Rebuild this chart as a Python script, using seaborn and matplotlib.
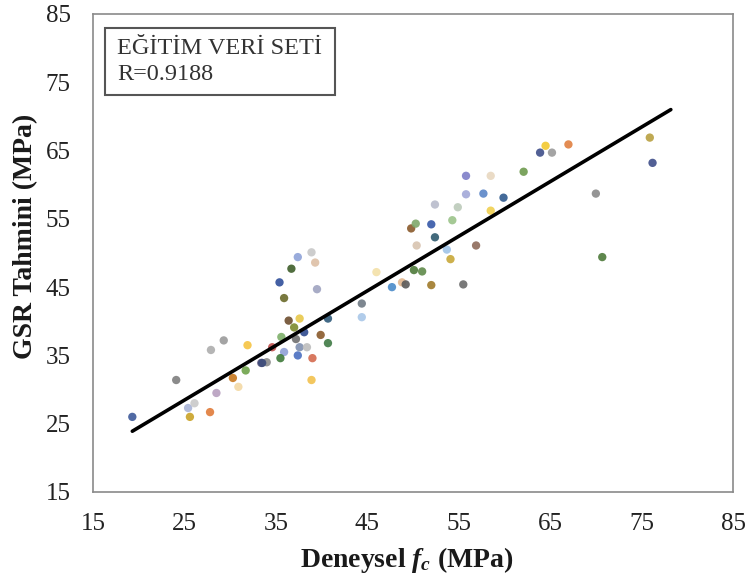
import matplotlib
matplotlib.use("Agg")
import matplotlib.pyplot as plt
import seaborn as sns
import pandas as pd

# ---- data ----
exp_fc = [19.3, 24.1, 25.4, 26.1, 25.6, 27.8, 27.9, 28.5, 29.3, 30.3,
          30.9, 31.9, 31.7, 33.4, 34.0, 33.5, 34.6, 35.4, 35.9, 35.9,
          35.5, 35.6, 36.7, 36.4, 37.6, 37.0, 37.4, 37.4, 37.6, 38.1,
          37.2, 38.4, 39.0, 38.9, 38.9, 39.3, 39.5, 40.7, 39.9, 40.7,
          44.4, 44.4, 46.0, 47.7, 48.8, 49.2, 49.8, 50.3, 50.1, 51.0,
          50.4, 52.0, 52.0, 52.4, 52.4, 53.7, 54.1, 54.3, 54.9, 55.5,
          55.8, 55.8, 56.9, 57.7, 58.5, 58.5, 59.9, 62.1, 63.9, 64.5,
          65.2, 67.0, 70.0, 70.7, 75.9, 76.2]
gsr_pred = [26.0, 31.4, 27.3, 28.0, 26.0, 26.7, 35.8, 29.5, 37.2, 31.7,
            30.4, 36.5, 32.8, 33.9, 34.0, 33.9, 36.2, 45.7, 43.4, 35.5,
            34.6, 37.7, 47.7, 40.1, 40.4, 39.1, 49.4, 35.0, 36.2, 38.4,
            37.4, 36.2, 34.6, 31.4, 50.1, 48.6, 44.7, 40.4, 38.0, 36.8,
            42.6, 40.6, 47.2, 45.0, 45.7, 45.4, 53.6, 54.3, 47.5, 47.3,
            51.1, 45.3, 54.2, 52.3, 57.1, 50.5, 49.1, 54.8, 56.7, 45.4,
            61.3, 58.6, 51.1, 58.7, 61.3, 56.2, 58.1, 61.9, 64.7, 65.7,
            64.7, 65.9, 58.7, 49.4, 66.9, 63.2]
fit_x = [19.3, 78.2]
fit_y = [23.9, 71.0]
x_ticks = [15, 25, 35, 45, 55, 65, 75, 85]
y_ticks = [15, 25, 35, 45, 55, 65, 75, 85]
box_title = "EĞİTİM VERİ SETİ"
box_r = "R=0.9188"

point_colors = ['#3E5A9A', '#7F7F7F', '#A9B4D6', '#C9C9C9', '#C9A227', '#E07B39', '#ADADAD', '#B79FBF', '#9A9A9A', '#C8781E',
                '#F3D9A4', '#F5C342', '#6FA34A', '#6C6488', '#8C8C8C', '#3B4A7A', '#C0504D', '#2F4F9A', '#6B6B2A', '#8FA0D6',
                '#3F7A3A', '#7FB06A', '#3E5E2A', '#6E4E2E', '#E8C84A', '#7D8A2E', '#8EA2D8', '#4A6FC0', '#7E8FB0', '#2E4A8E',
                '#6F6F6F', '#BDBDBD', '#D46A4F', '#F2C14E', '#C8C8C8', '#DDBFA5', '#9FA3C0', '#2E5A7A', '#8A5A2B', '#3F7A45',
                '#6F7A84', '#A9C7E8', '#F3E0A8', '#4A8BC9', '#E3B78E', '#5A5A5A', '#8A5A2B', '#7FA86A', '#4E7A3A', '#5F8A4A',
                '#D8C3B0', '#A07A2A', '#3558A8', '#2E5A6E', '#B8BCCB', '#9FC3E8', '#C8A838', '#9BC38A', '#BCCABA', '#6A6A6A',
                '#7E7EC8', '#A2A8D8', '#8E6A5A', '#5B86C8', '#E8D8C0', '#F0D050', '#2F5A8E', '#6E9A4E', '#3F4F8A', '#F2C830',
                '#9A9A9A', '#E08040', '#8A8A8A', '#4E7A3A', '#B8A040', '#3F4F8A']

sns.set_style("white")
plt.rcParams['font.family'] = ['Liberation Serif', 'DejaVu Serif']
plt.rcParams['mathtext.fontset'] = 'custom'
plt.rcParams['mathtext.rm'] = 'Liberation Serif:bold'
plt.rcParams['mathtext.it'] = 'Liberation Serif:bold:italic'
plt.rcParams['mathtext.bf'] = 'Liberation Serif:bold'

df = pd.DataFrame({"exp": exp_fc, "pred": gsr_pred, "idx": [str(i) for i in range(len(exp_fc))]})
line_df = pd.DataFrame({"x": fit_x, "y": fit_y})

fig = plt.figure(figsize=(7.48, 5.84), dpi=100)
ax = fig.add_axes([93/748, 1 - 492/584, (733 - 93)/748, (492 - 14)/584])

sns.scatterplot(data=df, x="exp", y="pred", hue="idx", palette=point_colors,
                s=36, alpha=0.9, linewidth=0, legend=False, ax=ax, zorder=2)
sns.lineplot(data=line_df, x="x", y="y", color="black", linewidth=2.6, ax=ax, zorder=3)

ax.set_xlim(15, 85)
ax.set_ylim(15, 85)
ax.set_xticks(x_ticks)
ax.set_yticks(y_ticks)
ax.tick_params(axis='both', length=0, labelsize=18)
ax.tick_params(axis='x', pad=15)
ax.tick_params(axis='y', pad=16)
for lab in ax.get_xticklabels() + ax.get_yticklabels():
    lab.set_color('#222222')

for sp in ax.spines.values():
    sp.set_color('#8a8a8a')
    sp.set_linewidth(1.2)

ax.set_xlabel(r"Deneysel $\mathit{f}_{\mathit{c}}$ (MPa)", fontsize=20, fontweight='bold', color='#1a1a1a')
ax.set_ylabel("GSR Tahmini (MPa)", fontsize=20, fontweight='bold', color='#1a1a1a')
ax.xaxis.set_label_coords(0.49, -0.142)
ax.yaxis.set_label_coords(-0.105, 0.535)
ax.xaxis.label.set_va('center')
ax.yaxis.label.set_va('center')

# boxed annotation
box_x0, box_y1 = (105 - 93) / 640, (492 - 28) / 478
box_w, box_h = 230 / 640, 67 / 478
ax.add_patch(plt.Rectangle((box_x0, box_y1 - box_h), box_w, box_h, transform=ax.transAxes,
                           facecolor='white', edgecolor='#555555', linewidth=1.5, zorder=4))
ax.text((117 - 93) / 640, (492 - 48) / 478, box_title, transform=ax.transAxes,
        fontsize=17.5, va='center', ha='left', color='#333333', zorder=5)
ax.text((117 - 93) / 640, (492 - 75) / 478, box_r, transform=ax.transAxes,
        fontsize=17.5, va='center', ha='left', color='#333333', zorder=5)

fig.savefig("out.png", dpi=100)
